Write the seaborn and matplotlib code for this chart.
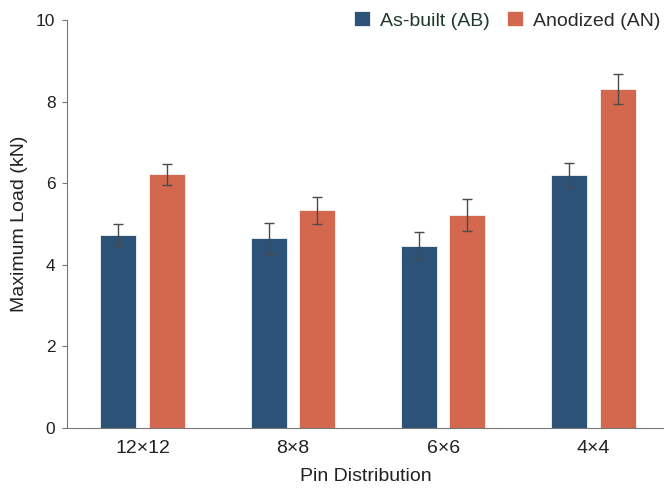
import numpy as np
import pandas as pd
import matplotlib
matplotlib.use("Agg")
import matplotlib.pyplot as plt
import seaborn as sns

categories = ["12\u00d712", "8\u00d78", "6\u00d76", "4\u00d74"]
series = ["As-built (AB)", "Anodized (AN)"]
ab_mean = [4.73, 4.65, 4.47, 6.20]
ab_err = [0.27, 0.38, 0.33, 0.30]
an_mean = [6.22, 5.34, 5.22, 8.31]
an_err = [0.26, 0.33, 0.39, 0.36]
colors = ["#2c5277", "#d4684f"]

df = pd.DataFrame({
    "dist": categories * 2,
    "series": [series[0]] * 4 + [series[1]] * 4,
    "load": ab_mean + an_mean,
    "err": ab_err + an_err,
})

sns.set_style("white")
plt.rcParams["font.family"] = ["Liberation Sans", "DejaVu Sans"]

fig = plt.figure(figsize=(6.64, 4.88), dpi=100)
ax = fig.add_axes([0.101, 0.123, 0.899, 0.836])

sns.barplot(data=df, x="dist", y="load", hue="series", palette=colors,
            saturation=1, width=0.645, gap=0.255, errorbar=None, ax=ax,
            edgecolor="#f4f4f4", linewidth=0.6)

# error bars at bar centres
for cont, (_, sub) in zip(ax.containers, df.groupby("series", sort=False)):
    xs = [p.get_x() + p.get_width() / 2 for p in cont.patches]
    ax.errorbar(xs, sub["load"].values, yerr=sub["err"].values, fmt="none",
                ecolor="#4a4a4a", elinewidth=1.0, capsize=3.3, capthick=1.0)

ax.set_ylim(0, 10)
ax.set_xlim(-0.502, 3.469)
ax.set_yticks([0, 2, 4, 6, 8, 10])
ax.set_xlabel("Pin Distribution", fontsize=14, color="#222222")
ax.xaxis.set_label_coords(0.5, -0.098)
ax.set_ylabel("Maximum Load (kN)", fontsize=14, color="#222222", labelpad=6)
ax.tick_params(axis="y", length=3.6, width=0.8, color="#777777", labelsize=12.5,
               labelcolor="#222222", left=True, pad=4.8)
ax.tick_params(axis="x", length=0, labelsize=14, labelcolor="#222222", pad=9)
sns.despine(ax=ax)
for s in ["left", "bottom"]:
    ax.spines[s].set_color("#777777")
    ax.spines[s].set_linewidth(0.8)

leg = ax.legend(loc="center right", bbox_to_anchor=(0.994, 1 - 20.5 / 488),
                bbox_transform=fig.transFigure, ncol=2, frameon=False,
                fontsize=14, handlelength=0.82, handleheight=0.82, borderpad=0,
                borderaxespad=0, handletextpad=0.52, columnspacing=0.88)
leg.get_texts()[0].set_color("#1f3a2c")
leg.get_texts()[1].set_color("#2a2a2a")

fig.savefig("out.png", dpi=100)
